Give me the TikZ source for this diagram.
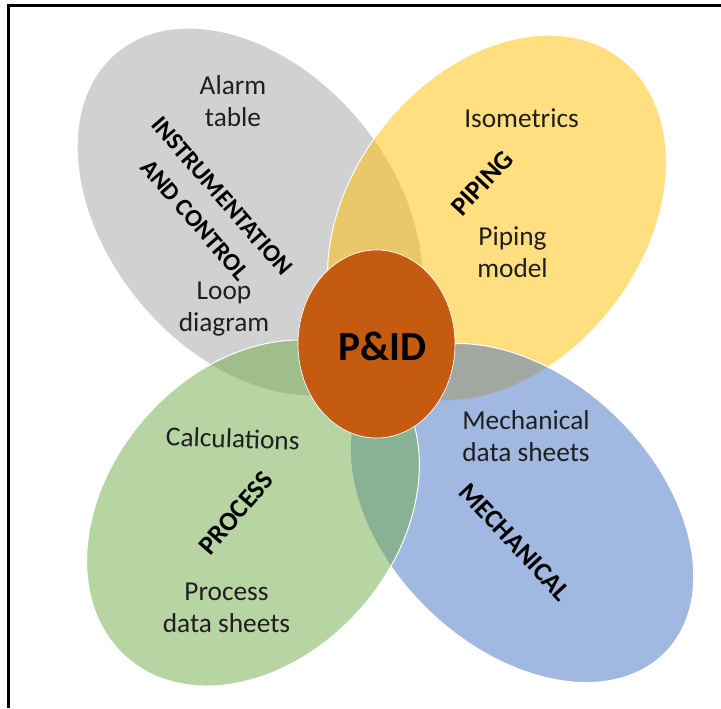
\documentclass[tikz,border=0pt]{standalone}
\usepackage{fontspec}
\setmainfont{Carlito}
\usetikzlibrary{shapes.geometric}
\definecolor{icgray}{HTML}{A5A5A5}
\definecolor{pipeyellow}{HTML}{FFC000}
\definecolor{mechblue}{HTML}{4472C4}
\definecolor{procgreen}{HTML}{70AD47}
\definecolor{pidorange}{HTML}{C55A11}
\begin{document}
\begin{tikzpicture}[x=0.75pt,y=-0.75pt,
  petal/.style={fill opacity=0.5, draw=white, line width=0.75pt},
  body/.style={font=\fontsize{20.5}{24}\selectfont, text=black!88, align=center, inner sep=0pt},
  title/.style={font=\fontsize{20}{24}\selectfont\bfseries, text=black, align=center, inner sep=0pt},
  pidshape/.style={ellipse, fill=pidorange, draw=white, line width=0.5pt, minimum width=117.75pt, minimum height=141pt, inner sep=0pt},
  pidlabel/.style={font=\fontsize{31}{32}\selectfont\bfseries, text=black, inner sep=0pt},
  frameline/.style={line width=2pt, line join=miter}
]
\useasboundingbox (0,0) rectangle (721,708);
\fill[white] (0,0) rectangle (721,708);
% petals
\path[petal, fill=icgray, rotate around={-50:(250,212)}] (250,212) ellipse [x radius=208, y radius=143];
\path[petal, fill=pipeyellow, rotate around={52:(497,218)}] (497,218) ellipse [x radius=202, y radius=146];
\path[petal, fill=mechblue, rotate around={-44:(522,513)}] (522,513) ellipse [x radius=200, y radius=135];
\path[petal, fill=procgreen, rotate around={49:(253,513)}] (253,513) ellipse [x radius=192, y radius=144];
% centre
\node[pidshape] (pid) at (376.5,344) {};
\node[pidlabel] (pidtext) at (382.5,346.7) {P\&ID};
% frame
\draw[frameline] (8.5,708) -- (8.5,5.3) -- (721,5.3);
% body texts
\node[body] (alarm) at (233,101.5) {Alarm\\table};
\node[body] (loop) at (224,308.6) {Loop\\diagram};
\node[body, anchor=base] (iso) at (521.5,127) {Isometrics};
\node[body] (pipmodel) at (512.5,252.5) {Piping\\model};
\node[body] (mechds) at (526,436) {Mechanical\\data sheets};
\node[body, anchor=base, rotate=-2] (calc) at (232.5,448) {Calculations};
\node[body] (procds) at (226.5,608.3) {Process\\data sheets};
% titles
\node[title, rotate=47] (piping) at (482,183) {PIPING};
\node[title, rotate=49] (process) at (236,513) {PROCESS};
\node[title, rotate=-47] (mech) at (515,542) {MECHANICAL};
\node[title, font=\fontsize{18.5}{27}\selectfont\bfseries, rotate=-49] (ic) at (208.5,208) {INSTRUMENTATION\\AND CONTROL};
\end{tikzpicture}
\end{document}
